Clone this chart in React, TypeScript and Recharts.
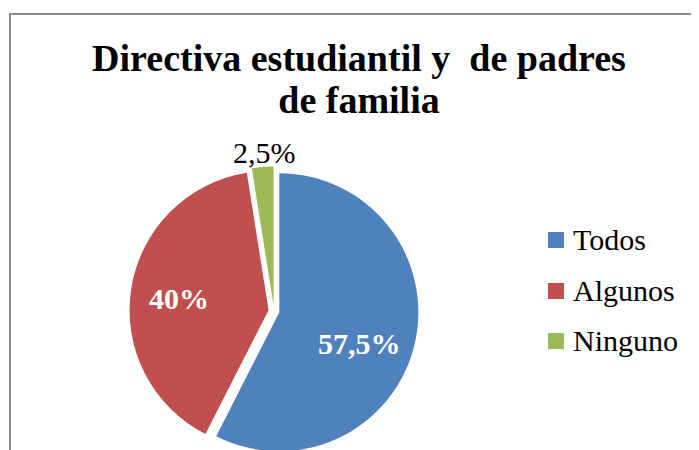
import React from 'react';
import { PieChart, Pie, Cell, Legend } from 'recharts';

const categories = ['Todos', 'Algunos', 'Ninguno'];
const values = [57.5, 40, 2.5];
const valueLabels = ['57,5%', '40%', '2,5%'];
const colors = ['#4F81BD', '#C0504D', '#9BBB59'];
const titleLines = ['Directiva estudiantil y  de padres', 'de familia'];

const data = categories.map((name, i) => ({ name, value: values[i] }));
const total = values.reduce((a, b) => a + b, 0);

const CX = 261;
const CY = 298;
const R = 139;
const EXPLODE = 5.5;
const START = 90;
const RAD = Math.PI / 180;
const labelRadius = [0.617, 0.65, 1.106];
const labelAngleShift = [-8, 1.5, -1];
const labelColor = ['#ffffff', '#ffffff', '#000000'];
const labelWeight = ['bold', 'bold', 'normal'];
const FONT = '"Liberation Serif", "Times New Roman", Times, serif';

const midAngles = values.map((v, i) => {
  const before = values.slice(0, i).reduce((a, b) => a + b, 0);
  return START - ((before + v / 2) / total) * 360;
});

const makeLabel = (slice: number) => (props: any) => {
  const { cx, cy, midAngle, outerRadius, index } = props;
  if (index !== slice) return null;
  const r = outerRadius * labelRadius[index];
  const a = midAngle + labelAngleShift[index];
  const x = cx + r * Math.cos(-a * RAD);
  const y = cy + r * Math.sin(-a * RAD);
  return (
    <text
      x={x}
      y={y}
      textAnchor="middle"
      dominantBaseline="central"
      fill={labelColor[index]}
      fontWeight={labelWeight[index]}
      fontSize={30}
      style={{ fontFamily: FONT }}
    >
      {valueLabels[index]}
    </text>
  );
};

const LegendContent = () => (
  <div style={{ fontFamily: FONT, fontSize: 30, color: '#000' }}>
    {categories.map((c, i) => (
      <div key={c} style={{ display: 'flex', alignItems: 'center', height: 50.5 }}>
        <span style={{ display: 'inline-block', width: 16, height: 16, background: colors[i], marginRight: 9 }} />
        <span style={{ lineHeight: '30px' }}>{c}</span>
      </div>
    ))}
  </div>
);

export default function App() {
  return (
    <div style={{ position: 'relative', width: 691, height: 442, overflow: 'hidden' }}>
      <div
        style={{
          position: 'absolute',
          left: 1,
          top: 5,
          width: 720,
          height: 480,
          border: '2px solid #8a8a8a',
          boxSizing: 'border-box',
        }}
      />
      <div
        style={{
          position: 'absolute',
          left: 51,
          top: 29,
          width: 600,
          textAlign: 'center',
          fontFamily: FONT,
          fontWeight: 'bold',
          fontSize: 38,
          lineHeight: '42px',
          whiteSpace: 'pre',
          color: '#000',
        }}
      >
        {titleLines.map((t) => (
          <div key={t}>{t}</div>
        ))}
      </div>
      <div style={{ position: 'absolute', left: 0, top: 0 }}>
        <PieChart width={691} height={442}>
          {categories.map((_, s) => {
            const dx = EXPLODE * Math.cos(-midAngles[s] * RAD);
            const dy = EXPLODE * Math.sin(-midAngles[s] * RAD);
            return (
              <Pie
                key={s}
                data={data}
                dataKey="value"
                nameKey="name"
                cx={CX + dx}
                cy={CY + dy}
                outerRadius={R}
                startAngle={90}
                endAngle={-270}
                stroke="none"
                legendType="none"
                isAnimationActive={false}
                labelLine={false}
                label={makeLabel(s)}
              >
                {data.map((d, j) => (
                  <Cell key={d.name} fill={j === s ? colors[j] : 'transparent'} />
                ))}
              </Pie>
            );
          })}
          <Legend
            content={<LegendContent />}
            wrapperStyle={{ position: 'absolute', left: 540, top: 207, width: 150 }}
          />
        </PieChart>
      </div>
    </div>
  );
}
